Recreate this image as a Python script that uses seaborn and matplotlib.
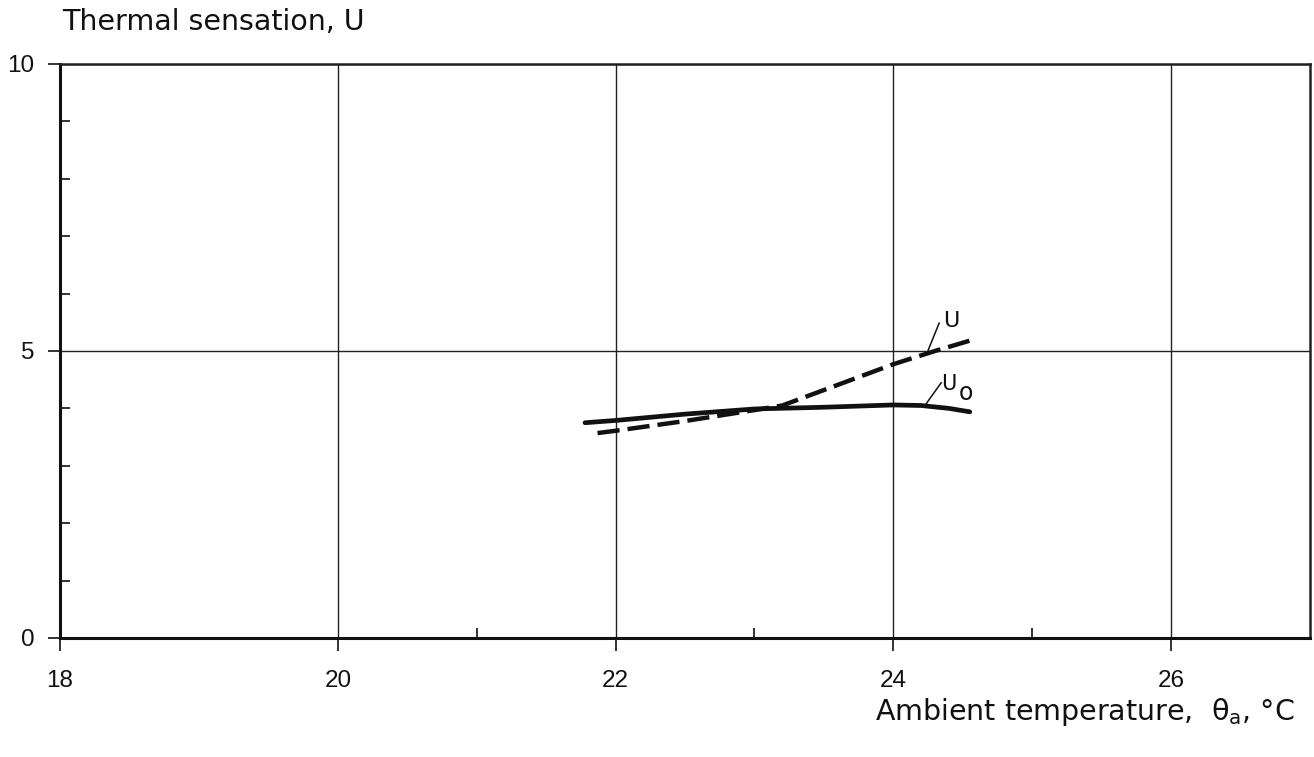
import matplotlib
matplotlib.use("Agg")
import matplotlib.pyplot as plt
from matplotlib.ticker import FixedLocator
import seaborn as sns
import pandas as pd

# Thermal sensation against ambient temperature
theta_U = [21.87, 22.0, 22.5, 23.0, 23.2, 23.5, 23.8, 24.0, 24.3, 24.55]
U = [3.57, 3.61, 3.78, 3.97, 4.05, 4.32, 4.59, 4.77, 5.00, 5.18]

theta_U0 = [21.78, 22.0, 22.5, 23.0, 23.5, 24.0, 24.2, 24.4, 24.55]
U0 = [3.75, 3.79, 3.90, 3.99, 4.02, 4.06, 4.05, 4.00, 3.94]

x_major = [18, 20, 22, 24, 26]
x_minor = [21, 23, 25]
y_major = [0, 5, 10]
y_minor = [1, 2, 3, 4, 6, 7, 8, 9]

INK = "#111111"

sns.set_style("white")
plt.rcParams["font.family"] = ["Liberation Sans", "DejaVu Sans"]
plt.rcParams["mathtext.default"] = "regular"

fig = plt.figure(figsize=(13.14, 7.57), dpi=100)
ax = fig.add_axes([0.0457, 0.1572, 0.9513, 0.7583])

df_u = pd.DataFrame({"theta": theta_U, "value": U})
df_u0 = pd.DataFrame({"theta": theta_U0, "value": U0})

sns.lineplot(data=df_u0, x="theta", y="value", ax=ax, color=INK,
             linewidth=3.4, sort=False, zorder=3)
sns.lineplot(data=df_u, x="theta", y="value", ax=ax, color=INK,
             linewidth=3.2, sort=False, zorder=4, linestyle=(0, (5, 1.8)))

ax.set_xlim(18, 27)
ax.set_ylim(0, 10)
ax.set_xlabel("")
ax.set_ylabel("")

ax.xaxis.set_major_locator(FixedLocator(x_major))
ax.xaxis.set_minor_locator(FixedLocator(x_minor))
ax.yaxis.set_major_locator(FixedLocator(y_major))
ax.yaxis.set_minor_locator(FixedLocator(y_minor))
ax.set_xticklabels([str(v) for v in x_major])
ax.set_yticklabels([str(v) for v in y_major])

ax.tick_params(axis="x", which="major", direction="out", length=9, width=1.2,
               pad=14, labelsize=17.5, color=INK, labelcolor=INK, bottom=True)
ax.tick_params(axis="y", which="major", direction="out", length=8.5, width=1.2,
               pad=10, labelsize=17.5, color=INK, labelcolor=INK, left=True)
ax.tick_params(axis="x", which="minor", direction="in", length=7, width=1.2,
               color=INK, bottom=True)
ax.tick_params(axis="y", which="minor", direction="in", length=7, width=1.2,
               color=INK, left=True)

ax.grid(True, which="major", color="#222222", linewidth=1.0)
for side in ["left", "bottom"]:
    ax.spines[side].set_linewidth(2.2)
    ax.spines[side].set_color(INK)
for side in ["top", "right"]:
    ax.spines[side].set_linewidth(1.8)
    ax.spines[side].set_color("#222222")

# Curve labels with short leader lines
ax.plot([24.245, 24.33], [4.98, 5.49], color=INK, lw=1.1, zorder=5)
ax.text(24.355, 5.52, "U", fontsize=16, color=INK, ha="left", va="center",
        family="DejaVu Sans")
ax.plot([24.23, 24.345], [4.06, 4.45], color=INK, lw=1.1, zorder=5)
ax.text(24.345, 4.43, "U", fontsize=15, color=INK, ha="left", va="center",
        family="DejaVu Sans")
ax.text(24.47, 4.26, "o", fontsize=17, color=INK, ha="left", va="center",
        family="DejaVu Sans")

fig.text(62 / 1314, 1 - 22 / 757, "Thermal sensation, U", fontsize=20.5,
         color=INK, ha="left", va="center", family="DejaVu Sans")
fig.text(1295 / 1314, 1 - 712 / 757, "Ambient temperature,  θ$_{a}$, °C",
         fontsize=20.5, color=INK, ha="right", va="center",
         family="DejaVu Sans")

fig.savefig("out.png", dpi=100, facecolor="white")
